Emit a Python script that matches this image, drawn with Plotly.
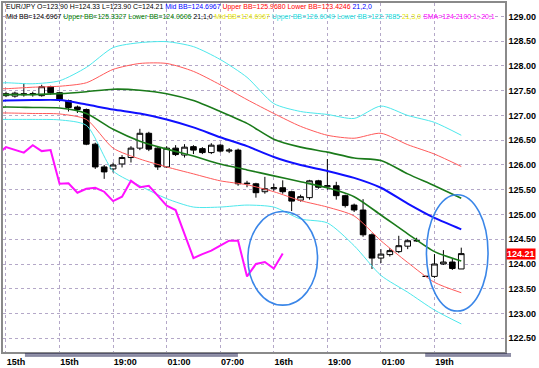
import plotly.graph_objects as go

# ---------------- data ----------------
bar_index = list(range(52))
opens = [127.40, 127.39, 127.44, 127.42, 127.40, 127.58, 127.46, 127.30, 127.17, 127.12,
         126.42, 125.96, 125.92, 126.02, 126.15, 126.34, 126.64, 126.34, 125.96, 126.34,
         126.20, 126.37, 126.33, 126.25, 126.40, 126.28, 126.30, 125.62, 125.62, 125.46,
         125.52, 125.54, 125.46, 125.29, 125.34, 125.68, 125.56, 125.58, 125.38, 125.19,
         125.09, 124.59, 124.12, 124.19, 124.25, 124.36, 124.47, 123.75, 123.75, 124.00,
         124.04, 123.90]
highs = [127.48, 127.48, 127.65, 127.48, 127.62, 127.60, 127.48, 127.32, 127.20, 127.14,
         126.45, 126.00, 126.05, 126.20, 126.38, 126.73, 126.67, 126.36, 126.38, 126.40,
         126.42, 126.40, 126.36, 126.44, 126.42, 126.34, 126.33, 125.68, 125.64, 125.76,
         125.62, 125.69, 125.48, 125.40, 125.70, 125.70, 126.12, 125.66, 125.40, 125.22,
         125.31, 124.62, 124.30, 124.32, 124.57, 124.50, 124.53, 123.76, 124.20, 124.28,
         124.10, 124.33]
lows = [127.37, 127.36, 127.38, 127.38, 127.38, 127.42, 127.28, 127.08, 127.05, 126.40,
        125.92, 125.72, 125.85, 125.95, 126.05, 126.30, 126.28, 125.90, 125.94, 126.18,
        126.15, 126.22, 126.22, 126.22, 126.25, 126.24, 125.58, 125.55, 125.34, 125.42,
        125.48, 125.42, 125.07, 125.26, 125.30, 125.52, 125.50, 125.30, 125.14, 125.05,
        124.55, 123.90, 124.02, 124.15, 124.22, 124.30, 124.45, 123.74, 123.72, 123.98,
        123.88, 123.90]
closes = [127.44, 127.45, 127.42, 127.44, 127.58, 127.46, 127.32, 127.16, 127.12, 126.42,
          125.96, 125.86, 126.00, 126.15, 126.34, 126.64, 126.32, 125.96, 126.34, 126.21,
          126.36, 126.30, 126.25, 126.40, 126.28, 126.30, 125.62, 125.63, 125.44, 125.52,
          125.54, 125.46, 125.27, 125.36, 125.68, 125.55, 125.58, 125.38, 125.18, 125.09,
          124.59, 124.12, 124.20, 124.27, 124.37, 124.47, 124.47, 123.75, 124.00, 124.04,
          123.91, 124.21]

# Bollinger band lines (bar index -> price)
band_index = [-1, 0, 3, 6, 9, 12, 15, 18, 21, 24, 27, 30, 33, 36, 39, 42, 45, 48, 51]
mid_bb = [127.29, 127.30, 127.31, 127.31, 127.22, 127.12, 127.04, 126.92, 126.76, 126.56,
          126.38, 126.16, 126.00, 125.88, 125.74, 125.54, 125.22, 124.93, 124.70]
upper_1 = [127.41, 127.42, 127.42, 127.44, 127.48, 127.53, 127.51, 127.44, 127.30, 127.08,
           126.84, 126.52, 126.36, 126.26, 126.14, 126.09, 125.82, 125.58, 125.33]
lower_1 = [127.16, 127.17, 127.16, 127.15, 127.04, 126.72, 126.48, 126.32, 126.18, 126.02,
           125.90, 125.78, 125.66, 125.54, 125.36, 124.99, 124.61, 124.25, 124.06]
upper_2 = [127.54, 127.54, 127.57, 127.59, 127.66, 127.93, 128.05, 128.05, 127.89, 127.62,
           127.32, 127.04, 126.78, 126.60, 126.54, 126.64, 126.41, 126.22, 125.97]
lower_2 = [127.05, 127.05, 127.04, 127.03, 126.92, 126.34, 126.12, 125.96, 125.82, 125.68,
           125.60, 125.46, 125.28, 125.15, 124.97, 124.47, 124.03, 123.63, 123.42]
upper_3 = [127.65, 127.66, 127.64, 127.70, 127.97, 128.37, 128.47, 128.49, 128.39, 128.13,
           127.77, 127.24, 127.08, 127.02, 126.94, 127.19, 127.00, 126.86, 126.60]
lower_3 = [126.92, 126.92, 126.92, 126.91, 126.80, 125.88, 125.58, 125.32, 125.15, 125.15,
           125.19, 125.15, 124.91, 124.83, 124.37, 123.77, 123.43, 123.07, 122.79]

sma_shift = -20  # SMA(1) shifted 20 bars back

x_tick_index = [0, 6, 12, 18, 24, 30, 36, 42, 48]
x_tick_text = ["15th", "15th", "19:00", "01:00", "07:00", "16th", "19:00", "01:00", "19th"]
y_ticks = [122.5, 123.0, 123.5, 124.0, 124.5, 125.0, 125.5, 126.0, 126.5, 127.0, 127.5, 128.0, 128.5, 129.0]

last_price = 124.21

header_1 = [("EUR/JPY O=123.90 H=124.33 L=123.90 C=124.21", "#000000"),
            ("Mid BB=124.6967", "#0000ff"),
            ("Upper BB=125.9680", "#ff0000"),
            ("Lower BB=123.4246", "#ff0000"),
            ("21,2,0", "#0000ff")]
header_2 = [("Mid BB=124.6967", "#000000"),
            ("Upper BB=125.3327", "#008000"),
            ("Lower BB=124.0606", "#008000"),
            ("21,1,0", "#000000"),
            ("Mid BB=124.6967", "#e8e800"),
            ("Upper BB=126.6049", "#20e0e0"),
            ("Lower BB=122.7885", "#20e0e0"),
            ("21,3,0", "#e8e800"),
            ("SMA=124.2100 1;-20;1", "#ff00ff")]

# hand-drawn ellipses: (bar from, bar to, price low, price high)
ellipses = [(27.1, 34.9, 123.17, 125.06), (47.1, 54.0, 123.05, 125.40)]

# ---------------- figure ----------------
fig = go.Figure()

fig.add_trace(go.Candlestick(
    x=bar_index, open=opens, high=highs, low=lows, close=closes,
    increasing=dict(line=dict(color="#000000", width=1), fillcolor="#ffffff"),
    decreasing=dict(line=dict(color="#000000", width=1), fillcolor="#000000"),
    whiskerwidth=0, hoverinfo="skip", showlegend=False))

def band(y, color, width):
    fig.add_trace(go.Scatter(x=band_index, y=y, mode="lines",
                             line=dict(color=color, width=width, shape="spline", smoothing=0.7),
                             hoverinfo="skip", showlegend=False))

band(upper_3, "#4de8ec", 1)
band(lower_3, "#4de8ec", 1)
band(upper_2, "#ff5a5a", 1)
band(lower_2, "#ff5a5a", 1)
band(upper_1, "#1a7a1a", 1.6)
band(lower_1, "#1a7a1a", 1.6)
band(mid_bb, "#1010ff", 2)

fig.add_trace(go.Scatter(x=[i + sma_shift for i in bar_index], y=closes, mode="lines",
                         line=dict(color="#ff10ff", width=2), hoverinfo="skip",
                         showlegend=False))

for x0, x1, y0, y1 in ellipses:
    fig.add_shape(type="circle", xref="x", yref="y", x0=x0, x1=x1, y0=y0, y1=y1,
                  line=dict(color="#3a86e8", width=1.6))

def header_text(parts):
    return " ".join('<span style="color:%s">%s</span>' % (c, t) for t, c in parts)

hdr_font = "Liberation Sans"
fig.add_annotation(xref="paper", yref="paper", x=0.002, y=0.988, xanchor="left", yanchor="middle",
                   text=header_text(header_1), showarrow=False,
                   font=dict(family=hdr_font, size=6.95, color="#000"))
fig.add_annotation(xref="paper", yref="paper", x=0.002, y=0.961, xanchor="left", yanchor="middle",
                   text=header_text(header_2), showarrow=False,
                   font=dict(family=hdr_font, size=6.95, color="#000"))

fig.add_annotation(xref="paper", yref="y", x=1.0, y=last_price, xanchor="left", yanchor="middle",
                   xshift=1, text="<b>%.2f</b>" % last_price, showarrow=False,
                   bgcolor="#ff0000", borderpad=0,
                   font=dict(family="Liberation Sans", size=9, color="#ffffff"))

# double separator lines under the time axis
for xa, xb in [(0.0437, 0.468), (0.841, 1.012)]:
    for yy in (-0.0057, -0.0114):
        fig.add_shape(type="line", xref="paper", yref="paper", x0=xa, x1=xb, y0=yy, y1=yy,
                      line=dict(color="#202050", width=1))

grid = "#b4a8c8"
fig.update_layout(
    width=539, height=368, autosize=False,
    margin=dict(l=1, r=34, t=1, b=16, pad=0),
    paper_bgcolor="#ffffff", plot_bgcolor="#ffffff",
    showlegend=False, boxgap=0.1,
    xaxis=dict(range=[-0.335, 55.9], rangeslider=dict(visible=False),
               tickmode="array", tickvals=x_tick_index, ticktext=x_tick_text,
               ticklabelposition="outside right", ticks="",
               showgrid=True, gridcolor=grid, griddash="dot", gridwidth=1,
               zeroline=False, showline=True, linecolor="#8a8a8a", linewidth=1.5, mirror=True,
               tickfont=dict(family="Liberation Sans", size=9, color="#000", weight="bold")),
    yaxis=dict(range=[122.223, 129.271], side="right", tickmode="array", tickvals=y_ticks,
               tickformat=".2f", ticks="",
               showgrid=True, gridcolor=grid, griddash="dot", gridwidth=1,
               zeroline=False, showline=True, linecolor="#8a8a8a", linewidth=1.5, mirror=True,
               tickfont=dict(family="Liberation Sans", size=9, color="#000", weight="bold")),
)

fig.write_html("out.html", config={"displayModeBar": False},
               post_script="document.body.style.margin='0px';document.body.style.overflow='hidden';")
